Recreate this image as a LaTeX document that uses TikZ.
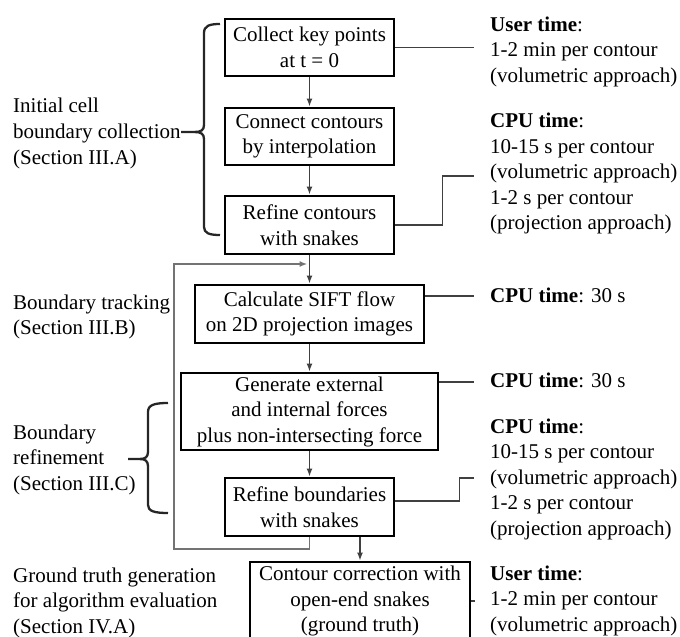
\documentclass[tikz,border=0pt]{standalone}
\usepackage{fontspec}
\setmainfont{Liberation Serif}
\usetikzlibrary{arrows.meta,calc}
\begin{document}
\begin{tikzpicture}[x=1pt,y=-1pt,
  every node/.style={font=\fontsize{21}{25.5}\selectfont},
  box/.style={draw=black,line width=2.8pt,inner sep=0pt,align=center,minimum height=57pt},
  conn/.style={draw=black!75,line width=1.6pt},
  arr/.style={conn,-{Latex[length=8pt,width=6pt]}},
  loopline/.style={draw=black!55,line width=1.6pt},
  brace/.style={draw=black!85,line width=2.3pt},
  txt/.style={anchor=base west,inner sep=0pt}
]
\useasboundingbox (0,0) rectangle (680,637);

% boxes
\node[box,minimum width=169pt] (b1) at (309.5,47.5) {Collect key points\\at t = 0};
\node[box,minimum width=169pt] (b2) at (309.5,136.5) {Connect contours\\by interpolation};
\node[box,minimum width=169pt,minimum height=58pt] (b3) at (309.5,225) {Refine contours\\with snakes};
\node[box,minimum width=229pt,minimum height=58pt] (b4) at (309.5,314) {Calculate SIFT flow\\on 2D projection images};
\node[box,minimum width=257pt,minimum height=77pt] (b5) at (309.5,411.5) {Generate external\\and internal forces\\plus non-intersecting force};
\node[box,minimum width=169pt,minimum height=58pt] (b6) at (309.5,507) {Refine boundaries\\with snakes};
\node[box,minimum width=220pt,minimum height=78pt] (b7) at (360,601) {Contour correction with\\open-end snakes\\(ground truth)};

% main arrows
\draw[arr] (b1) -- (b2);
\draw[arr] (b2) -- (b3);
\draw[arr] (b3) -- (b4);
\draw[arr] (b4) -- (b5);
\draw[arr] (b5) -- (b6);
\draw[arr] (b6.south -| b7.north) -- (b7.north);

% feedback loop
\coordinate (lpB) at (174,549);
\coordinate (lpT) at (174,264);
\draw[loopline,-{Latex[length=8pt,width=6pt]}] (b6.south) |- (lpB) -- (lpT) -- ($(lpT -| b4.north)+(-2,0)$);

% right connectors
\coordinate (r1) at (474,47.5);
\draw[conn] (b1.east) -- (r1);
\coordinate (r2) at (474,176);
\draw[conn] (b3.east) -- ++(47,0) |- (r2);
\coordinate (r3) at (474,296);
\draw[conn] (r3 -| b4.east) -- (r3);
\coordinate (r4) at (474,382);
\draw[conn] (r4 -| b5.east) -- (r4);
\coordinate (r5) at (474,478);
\draw[conn] ($(b6.east)+(0,-6)$) -- ++(64,0) |- (r5);
\coordinate (r6) at (475,601);
\draw[conn] (b7.east) -- (r6);

% right texts
\node[txt] (t1a) at (490,31) {\textbf{User time}:};
\node[txt] (t1b) at (490,56.5) {1-2 min per contour};
\node[txt] (t1c) at (490,82) {(volumetric approach)};

\node[txt] (t2a) at (490,127.5) {\textbf{CPU time}:};
\node[txt] (t2b) at (490,153) {10-15 s per contour};
\node[txt] (t2c) at (490,178.5) {(volumetric approach)};
\node[txt] (t2d) at (490,204) {1-2 s per contour};
\node[txt] (t2e) at (490,229.5) {(projection approach)};

\node[txt] (t3a) at (490,302) {\textbf{CPU time}: 30 s};
\node[txt] (t4a) at (490,387) {\textbf{CPU time}: 30 s};

\node[txt] (t5a) at (490,433) {\textbf{CPU time}:};
\node[txt] (t5b) at (490,458.5) {10-15 s per contour};
\node[txt] (t5c) at (490,484) {(volumetric approach)};
\node[txt] (t5d) at (490,509.5) {1-2 s per contour};
\node[txt] (t5e) at (490,535) {(projection approach)};

\node[txt] (t6a) at (490,580) {\textbf{User time}:};
\node[txt] (t6b) at (490,605.5) {1-2 min per contour};
\node[txt] (t6c) at (490,631) {(volumetric approach)};

% left texts
\node[txt] (l1a) at (13,112) {Initial cell};
\node[txt] (l1b) at (13,138) {boundary collection};
\node[txt] (l1c) at (13,164) {(Section III.A)};

\node[txt] (l2a) at (13,309) {Boundary tracking};
\node[txt] (l2b) at (13,334.5) {(Section III.B)};

\node[txt] (l3a) at (13,439) {Boundary};
\node[txt] (l3b) at (13,464.5) {refinement};
\node[txt] (l3c) at (13,490) {(Section III.C)};

\node[txt] (l4a) at (13,582) {Ground truth generation};
\node[txt] (l4b) at (13,607.5) {for algorithm evaluation};
\node[txt] (l4c) at (13,633) {(Section IV.A)};

% braces
\draw[brace] (220,24) .. controls (209,24) and (204,26) .. (204,33) -- (204,125)
  .. controls (204,130) and (201,132) .. (195,132) -- (181,132);
\draw[brace] (195,132) .. controls (201,132) and (204,134) .. (204,139) -- (204,227)
  .. controls (204,233) and (209,235) .. (220,235);
\draw[brace] (168,403) .. controls (154,403) and (148,405) .. (148,412) -- (148,452)
  .. controls (148,457) and (145,459) .. (140,459) -- (128,459);
\draw[brace] (140,459) .. controls (145,459) and (148,461) .. (148,466) -- (148,505)
  .. controls (148,511) and (154,513) .. (168,513);
\end{tikzpicture}
\end{document}
